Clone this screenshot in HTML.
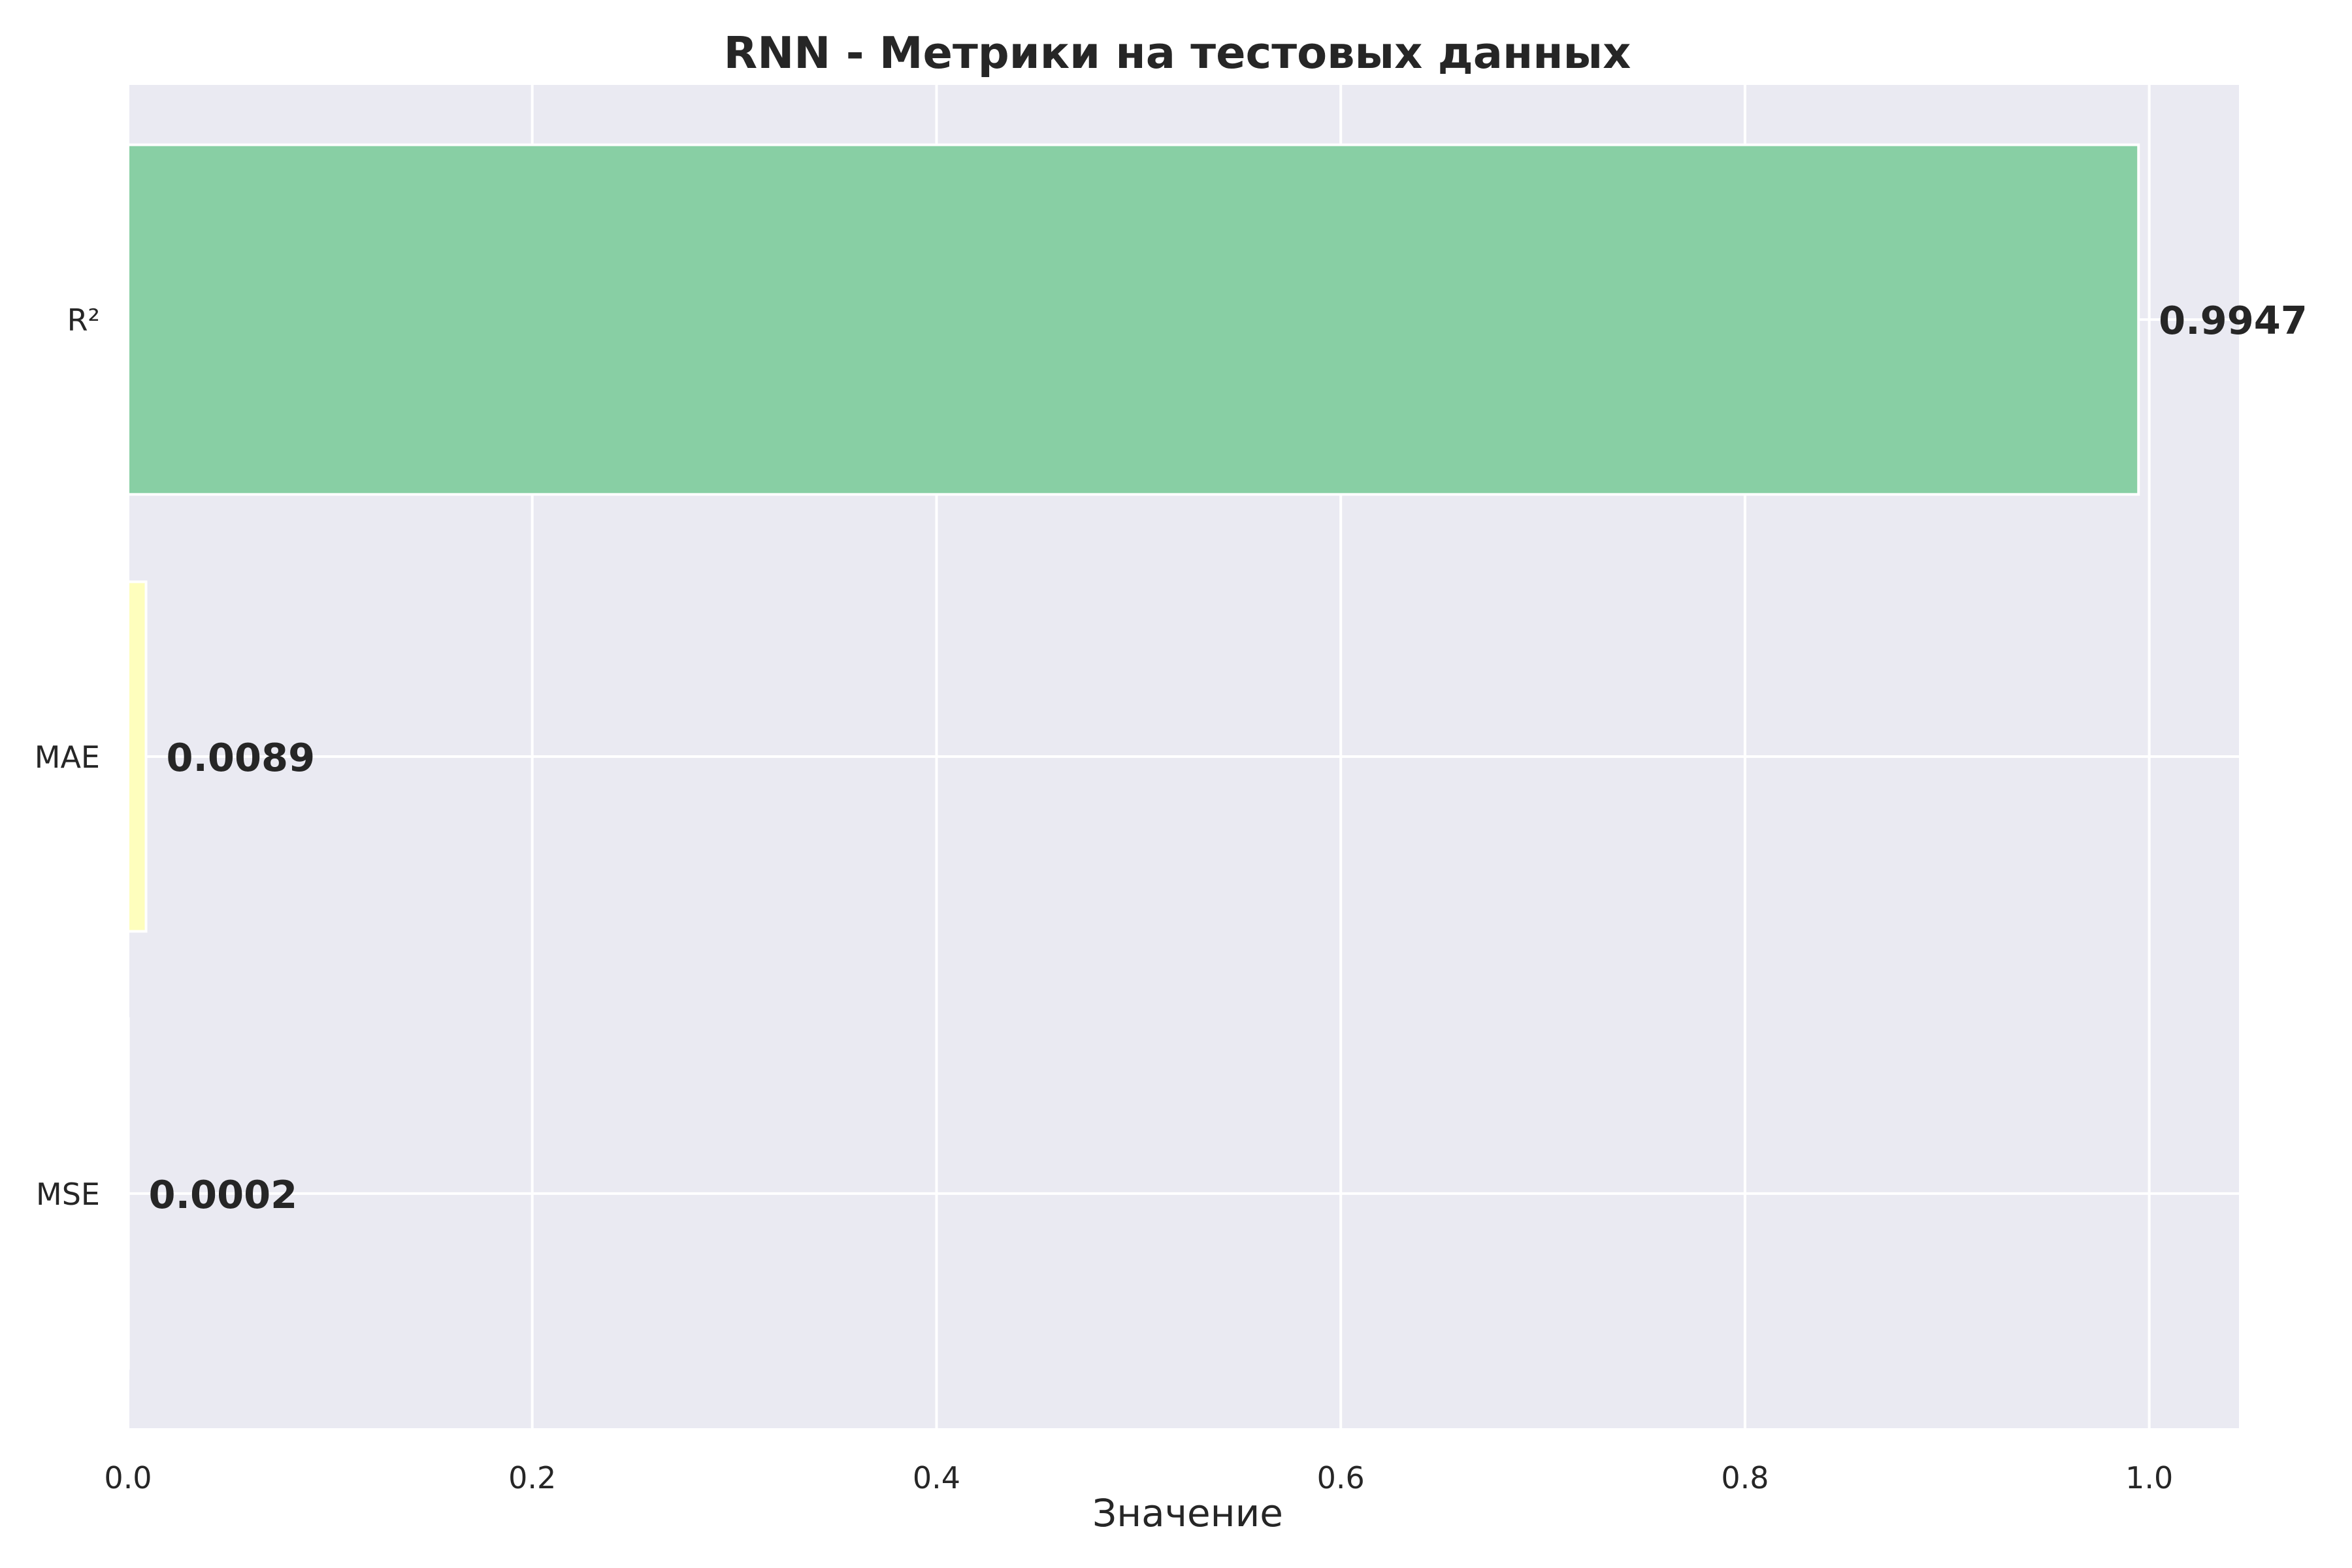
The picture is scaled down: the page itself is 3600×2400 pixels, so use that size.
<!DOCTYPE html>
<html><head><meta charset="utf-8"><style>
html,body{margin:0;padding:0;background:#fff;}
svg{display:block;}
text{font-family:"DejaVu Sans","Liberation Sans",sans-serif;fill:#262626;}
</style></head><body>
<svg id="chart" width="3600" height="2400" viewBox="0 0 3600 2400" xmlns="http://www.w3.org/2000/svg">
<rect x="196" y="130" width="3231" height="2056" fill="#eaeaf2"/>
<g id="grid"></g>
<g id="bars"></g>
<g id="labels"></g>
<text x="1802" y="104" text-anchor="middle" font-size="67" font-weight="bold">RNN - Метрики на тестовых данных</text>
<text x="1818" y="2336" text-anchor="middle" font-size="58">Значение</text>
</svg>
<script>
const categories = ["MSE", "MAE", "R²"];
const values = [0.0002, 0.0089, 0.9947];
const valueLabels = ["0.0002", "0.0089", "0.9947"];
const xTicks = [0, 0.2, 0.4, 0.6, 0.8, 1.0];
const xTickLabels = ["0.0", "0.2", "0.4", "0.6", "0.8", "1.0"];
const colors = ["#e95c47", "#fefebd", "#88cfa4"];

const L = 196, R = 3427, T = 130, B = 2186;
const xMax = 1.0444, yMin = -0.537, yMax = 2.537;
const xs = v => L + v / xMax * (R - L);
const ys = v => B - (v - yMin) / (yMax - yMin) * (B - T);
const NS = "http://www.w3.org/2000/svg";
const grid = document.getElementById('grid');
const bars = document.getElementById('bars');
const labels = document.getElementById('labels');
function mk(tag, attrs, parent) {
  const e = document.createElementNS(NS, tag);
  for (const k in attrs) e.setAttribute(k, attrs[k]);
  parent.appendChild(e);
  return e;
}
xTicks.forEach((t, i) => {
  const l = mk('line', {x1: xs(t), x2: xs(t), y1: T, y2: B, stroke: '#fff', 'stroke-width': 4}, grid);
  
  
  const tx = mk('text', {x: xs(t), y: 2278, 'text-anchor': 'middle', 'font-size': 46}, labels);
  tx.textContent = xTickLabels[i];
  
  
});
categories.forEach((c, i) => {
  const l = mk('line', {x1: L, x2: R, y1: ys(i), y2: ys(i), stroke: '#fff', 'stroke-width': 4}, grid);
  
  
  const tx = mk('text', {x: 153, y: ys(i) + 17, 'text-anchor': 'end', 'font-size': 46}, labels);
  tx.textContent = c;
  
  
});
categories.forEach((c, i) => {
  const h = 0.8;
  const y0 = ys(i + h / 2), y1 = ys(i - h / 2);
  const r = mk('rect', {x: xs(0), y: y0, width: Math.max(xs(values[i]) - xs(0), 0.5), height: y1 - y0, fill: colors[i], stroke: '#fff', 'stroke-width': 4}, bars);
  
  
  const tx = mk('text', {x: xs(values[i] + 0.01), y: ys(i) + 22, 'font-size': 59, 'font-weight': 'bold'}, labels);
  tx.textContent = valueLabels[i];
  
  
});
</script>
</body></html>
